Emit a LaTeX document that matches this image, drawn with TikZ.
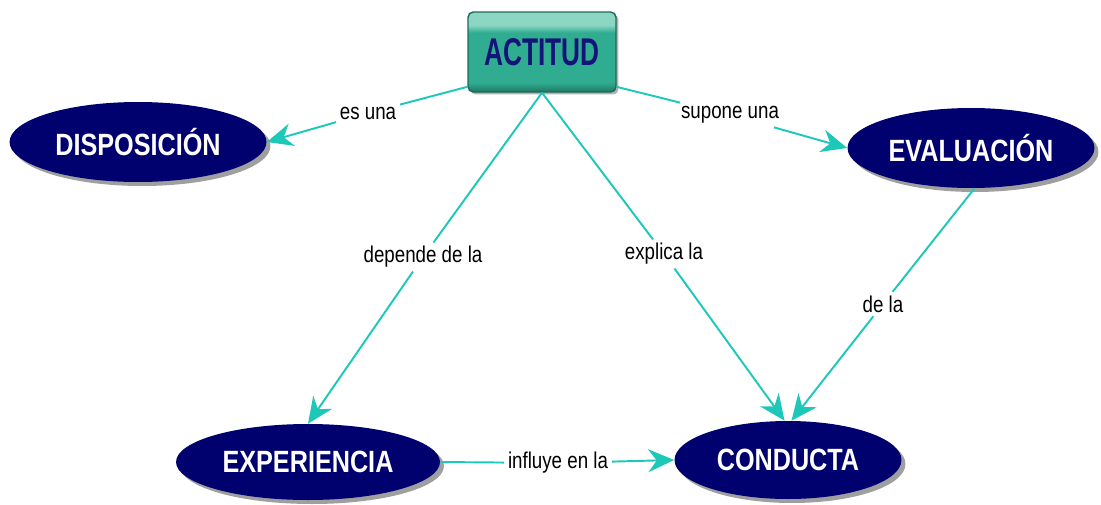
\documentclass[tikz,border=0pt]{standalone}
\usepackage{fontspec}
\setmainfont{Liberation Sans}
\newfontfamily\narrowfont[FakeStretch=0.82]{Liberation Sans}
\newfontfamily\boxfont[FakeStretch=0.68]{Liberation Sans}
\usetikzlibrary{arrows.meta,shapes.geometric,shadows}
\definecolor{navyfill}{RGB}{0,0,110}
\definecolor{linkteal}{RGB}{30,200,185}
\definecolor{boxteal}{RGB}{48,172,145}
\definecolor{boxlight}{RGB}{140,215,195}
\definecolor{boxdark}{RGB}{30,120,100}
\definecolor{boxedge}{RGB}{30,105,90}
\definecolor{boxtext}{RGB}{20,20,120}
\pgfdeclareverticalshading{actshade}{100bp}{color(0bp)=(boxdark); color(25bp)=(boxdark);
	color(31bp)=(boxteal); color(62bp)=(boxteal); color(67bp)=(boxlight); color(75bp)=(boxlight);
	color(100bp)=(boxlight)}
\tikzset{
	mapnode/.style = {align=center, inner sep=0pt, text centered},
	map_c/.style = {mapnode, ellipse, fill=navyfill, text=white,
		font=\narrowfont\bfseries\fontsize{17.5}{20}\selectfont,
		drop shadow={shadow xshift=0.08cm, shadow yshift=-0.08cm, fill=gray!75, opacity=1}},% concepto
	map_r/.style = {mapnode, rectangle, rounded corners=3pt, draw=boxedge, line width=0.8pt,
		shading=actshade, text=boxtext,
		minimum width=2.96cm, minimum height=1.6cm,
		font=\boxfont\bfseries\fontsize{22}{24}\selectfont,
		drop shadow={shadow xshift=0.05cm, shadow yshift=-0.05cm, fill=gray!60, opacity=1}},% concepto raiz
	map_l/.style = {mapnode, inner sep=2pt, text=black,
		font=\narrowfont\fontsize{13}{15}\selectfont},% palabra de enlace
	link/.style = {draw=linkteal, line width=1.1pt}
}

\begin{document}
\begin{tikzpicture}[x=0.02cm,y=-0.02cm,>={Stealth[length=0.52cm,width=0.46cm,inset=0.17cm]}]
\useasboundingbox (0,0) rectangle (1101,504);
% conceptos
\node [map_r] (actitud) at (542,52) {ACTITUD};
\node [map_c, minimum width=5.14cm, minimum height=1.6cm] (disp) at (138,142) {DISPOSICIÓN};
\node [map_c, minimum width=4.94cm, minimum height=1.6cm] (eval) at (971,148) {EVALUACIÓN};
\node [map_c, minimum width=5.28cm, minimum height=1.52cm] (exper) at (308,462) {EXPERIENCIA};
\node [map_c, minimum width=4.54cm, minimum height=1.56cm] (conducta) at (788,460) {CONDUCTA};
% palabras de enlace
\node [map_l] (l_es) at (368,113) {es una};
\node [map_l] (l_sup) at (730,115) {supone una};
\node [map_l] (l_dep) at (423,257) {depende de la};
\node [map_l] (l_exp) at (664,254) {explica la};
\node [map_l] (l_de) at (883,304) {de la};
\node [map_l] (l_inf) at (558,463) {influye en la};
% conexiones
\draw [link] (actitud.205) -- (l_es);
\draw [link,->] (l_es) -- (disp.east);
\draw [link] (actitud.-25) -- (l_sup);
\draw [link,->] (l_sup) -- (eval.west);
\draw [link] (actitud.south) -- (l_dep);
\draw [link,->] (l_dep) -- (exper.north);
\draw [link] (actitud.south) -- (l_exp);
\draw [link,->] (l_exp) -- (conducta.95);
\draw [link] (eval.-85) -- (l_de);
\draw [link,->] (l_de) -- (conducta.85);
\draw [link] (exper.east) -- (l_inf);
\draw [link,->] (l_inf) -- (conducta.west);
\end{tikzpicture}
\end{document}
